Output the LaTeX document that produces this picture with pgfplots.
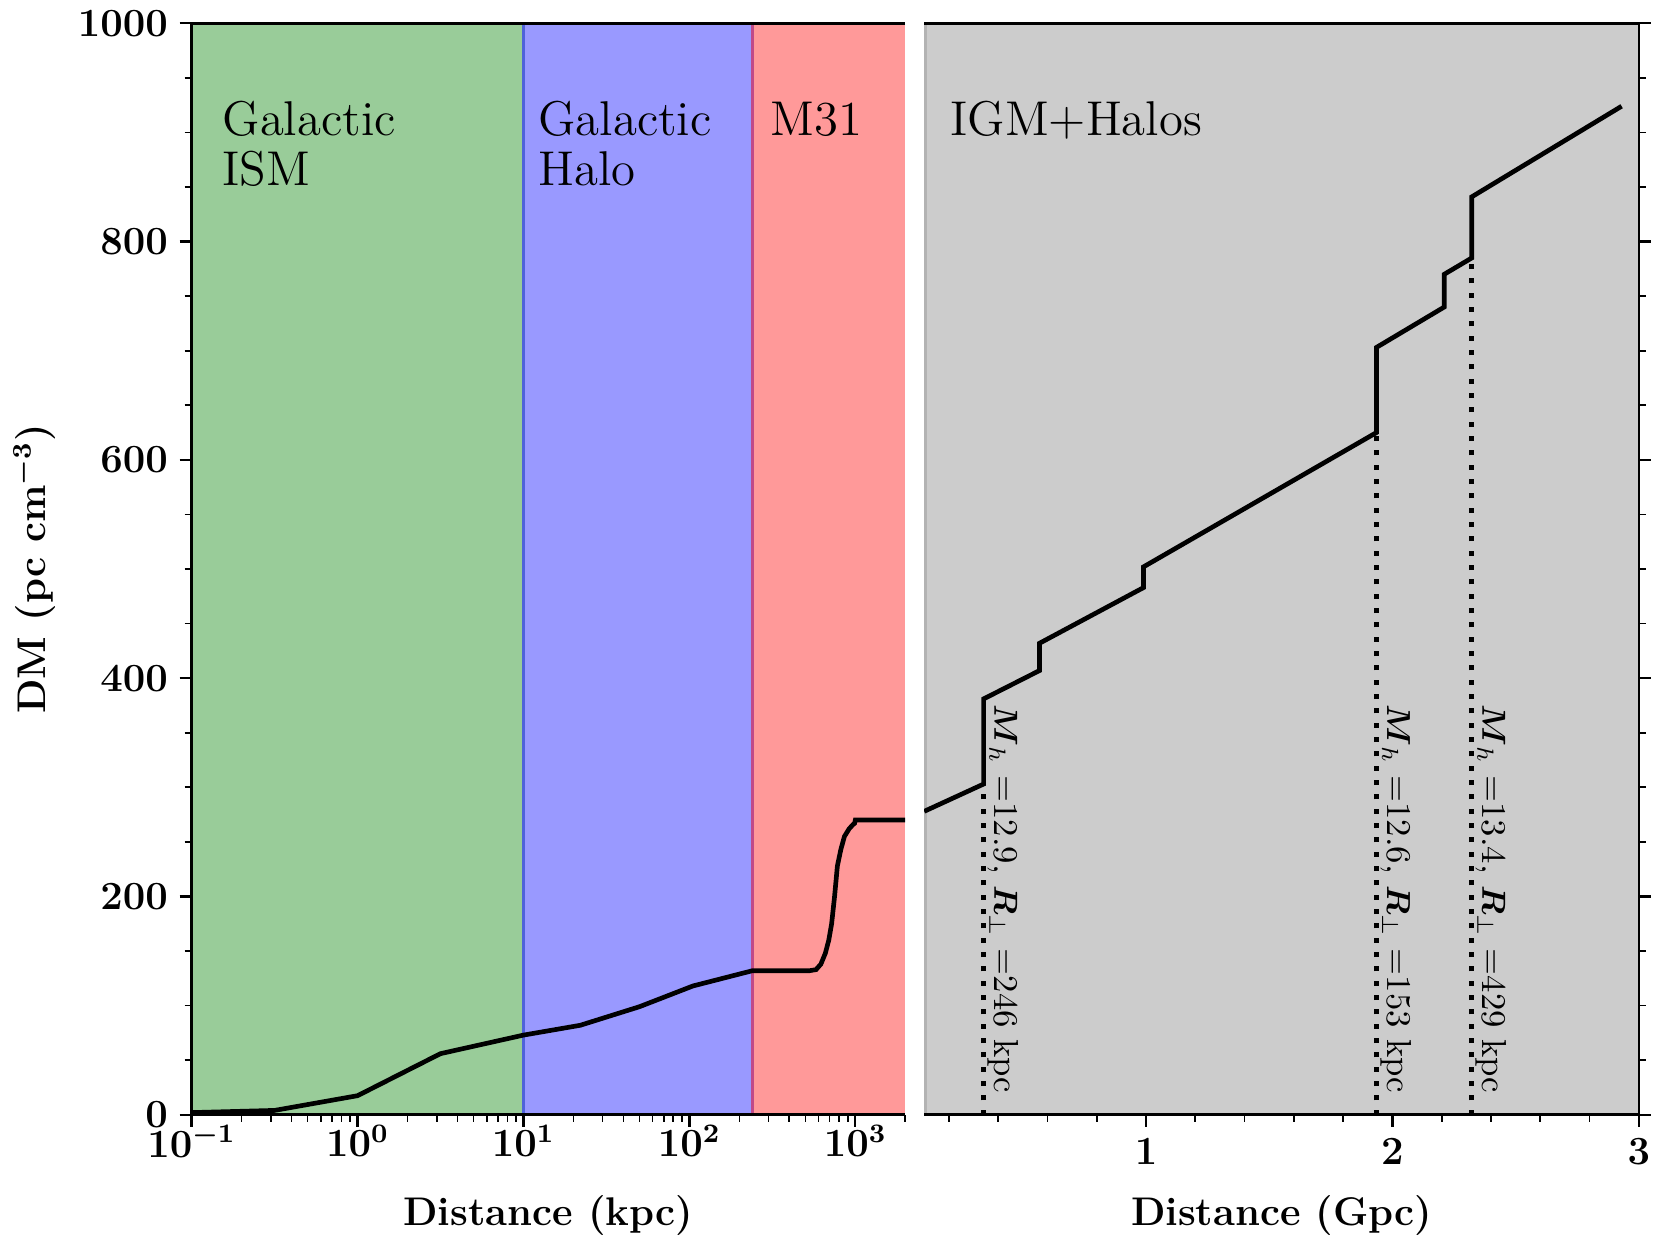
\documentclass[border=0pt]{standalone}
\usepackage{amsmath}
\usepackage{pgfplots}
\pgfplotsset{compat=1.18}
\definecolor{gspan}{HTML}{99CC99}
\definecolor{bspan}{HTML}{9999FF}
\definecolor{rspan}{HTML}{FF9999}
\definecolor{kspan}{HTML}{CCCCCC}
\definecolor{bedge}{HTML}{4F62DA}
\definecolor{redge}{HTML}{C04A88}
\definecolor{kedge}{HTML}{B3B3B3}
\newcommand{\lblfont}{\fontsize{14.65}{15}\selectfont}
\newcommand{\annfont}{\fontsize{10.4}{12}\selectfont}
\begin{document}
\begin{tikzpicture}
\path[use as bounding box] (0,0) rectangle (498pt,373.5pt);
% ---------------- left panel (kpc, log) ----------------
\begin{axis}[at={(57.5pt,39.06pt)}, anchor=south west, scale only axis,
  width=214.06pt, height=327.45pt, ymin=0, ymax=1000,
  ytick={0,200,...,1000}, minor y tick num=3,
  /pgf/number format/1000 sep={},
  tick align=outside, major tick length=3.6pt, minor tick length=2.1pt,
  tick style={black},
  every major tick/.append style={line width=0.7pt},
  every minor tick/.append style={line width=0.5pt},
  tick label style={font=\large\boldmath},
  axis line style={draw=none},
  xmode=log, xmin=0.1, xmax=2000,
  xtick={0.1,1,10,100,1000},
  minor xtick={0.2,0.3,0.4,0.5,0.6,0.7,0.8,0.9,2,3,4,5,6,7,8,9,20,30,40,50,60,70,80,90,200,300,400,500,600,700,800,900,2000},
  xtick pos=left, ytick pos=left,
  xticklabel style={yshift=4pt}]
\addplot[fill=gspan, draw=none] coordinates {(0.1,0) (0.1,1000) (10,1000) (10,0)};
\addplot[fill=bspan, draw=none] coordinates {(10,0) (10,1000) (240,1000) (240,0)};
\addplot[fill=rspan, draw=none] coordinates {(240,0) (240,1000) (2000,1000) (2000,0)};
\addplot[draw=bedge, line width=0.7pt] coordinates {(10,0) (10,1000)};
\addplot[draw=redge, line width=0.9pt] coordinates {(240,0) (240,1000)};
\addplot[draw=black, line width=1.4pt] coordinates {
  (0.1,2) (0.316,4) (1,17.5) (3.16,56) (10,73) (22,82) (50,99) (105,118) (240,132)
  (530,132) (580,133) (620,138) (660,148) (692,160) (720,175) (750,200) (780,228)
  (818,243) (860,255) (918,262) (970,266) (990,267) (1000,270) (2000,270)};
\end{axis}
% ---------------- right panel (Gpc, linear) ----------------
\begin{axis}[at={(277.26pt,39.06pt)}, anchor=south west, scale only axis,
  width=214.4pt, height=327.45pt, ymin=0, ymax=1000,
  ytick={0,200,...,1000}, minor y tick num=3,
  tick align=outside, major tick length=3.6pt, minor tick length=2.1pt,
  tick style={black},
  every major tick/.append style={line width=0.7pt},
  every minor tick/.append style={line width=0.5pt},
  tick label style={font=\large\boldmath},
  axis line style={draw=none},
  xmin=0.1, xmax=3, xtick={1,2,3},
  minor xtick={0.2,0.4,0.6,0.8,1.2,1.4,1.6,1.8,2.2,2.4,2.6,2.8},
  xtick pos=left, ytick pos=right,
  yticklabels={}]
\addplot[fill=kspan, draw=none] coordinates {(0.1,0) (0.1,1000) (3,1000) (3,0)};
\addplot[draw=kedge, line width=1.4pt] coordinates {(0.1,0) (0.1,1000)};
\addplot[draw=black, line width=1.5pt, dash pattern=on 1.5pt off 2.8pt] coordinates {(0.341,0) (0.341,303)};
\addplot[draw=black, line width=1.5pt, dash pattern=on 1.5pt off 2.8pt] coordinates {(1.935,0) (1.935,625)};
\addplot[draw=black, line width=1.5pt, dash pattern=on 1.5pt off 2.8pt] coordinates {(2.322,0) (2.322,785)};
\addplot[draw=black, line width=1.4pt] coordinates {
  (0.1,278) (0.341,303) (0.341,381) (0.568,407) (0.568,432) (0.99,483) (0.99,502)
  (1.935,625) (1.935,703) (2.21,740) (2.21,770) (2.322,785) (2.322,841) (2.93,924)};
\end{axis}
% ---------------- spines ----------------
\draw[line width=0.8pt] (271.56pt,366.51pt) -- (57.5pt,366.51pt) -- (57.5pt,39.06pt) -- (271.56pt,39.06pt);
\draw[line width=0.8pt] (277.26pt,366.51pt) -- (491.67pt,366.51pt) -- (491.67pt,39.06pt) -- (277.26pt,39.06pt);
% ---------------- texts ----------------
\node[anchor=base west, inner sep=0pt] at (66.56pt,332.8pt) {\lblfont Galactic};
\node[anchor=base west, inner sep=0pt] at (66.56pt,317.7pt) {\lblfont ISM};
\node[anchor=base west, inner sep=0pt] at (161.34pt,332.8pt) {\lblfont Galactic};
\node[anchor=base west, inner sep=0pt] at (161.34pt,317.7pt) {\lblfont Halo};
\node[anchor=base west, inner sep=0pt] at (230.9pt,332.8pt) {\lblfont M31};
\node[anchor=base west, inner sep=0pt] at (284.9pt,332.8pt) {\lblfont IGM+Halos};
\node[rotate=-90, anchor=base west, inner sep=0pt] at (298.3pt,162.2pt) {\annfont $\boldsymbol{M}_h$ =12.9, $\boldsymbol{R}_\perp$ =246 kpc};
\node[rotate=-90, anchor=base west, inner sep=0pt] at (416.1pt,162.2pt) {\annfont $\boldsymbol{M}_h$ =12.6, $\boldsymbol{R}_\perp$ =153 kpc};
\node[rotate=-90, anchor=base west, inner sep=0pt] at (444.7pt,162.2pt) {\annfont $\boldsymbol{M}_h$ =13.4, $\boldsymbol{R}_\perp$ =429 kpc};
\node[anchor=base] at (164.5pt,5.7pt) {\large\bfseries Distance (kpc)};
\node[anchor=base] at (384.5pt,5.7pt) {\large\bfseries Distance (Gpc)};
\node[rotate=90] at (10.2pt,202.8pt) {\large\textbf{DM (pc cm}$^{\boldsymbol{-3}}$\textbf{)}};
\end{tikzpicture}
\end{document}
